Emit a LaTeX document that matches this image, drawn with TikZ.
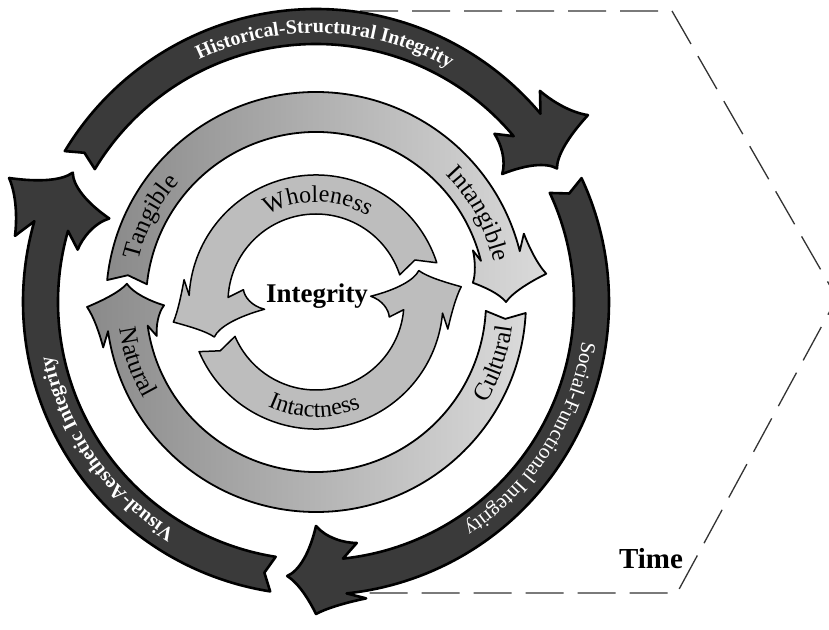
\documentclass[tikz,border=0pt]{standalone}
\usepackage{fontspec}
\setmainfont{Liberation Serif}
\usetikzlibrary{decorations.text}
\definecolor{ringdark}{HTML}{3A3A3A}
\definecolor{midL}{HTML}{8A8A8A}
\definecolor{midR}{HTML}{DADADA}
\definecolor{innerfill}{HTML}{BDBDBD}
\definecolor{dashgray}{HTML}{333333}
% #1 style, #2 r inner, #3 r outer, #4 tail angle, #5 neck angle, #6 tip angle,
% #7 barb reach outside, #8 barb reach inside, #9 notch apex angle
\newcommand\ringarrow[9]{%
  \pgfmathsetmacro\rI{#2}%
  \pgfmathsetmacro\rO{#3}%
  \pgfmathsetmacro\rM{(#2+#3)/2}%
  \pgfmathsetmacro\hW{(#3-#2)/2}%
  \pgfmathsetmacro\aT{#4}%
  \pgfmathsetmacro\aN{#5}%
  \pgfmathsetmacro\aP{#6}%
  \pgfmathsetmacro\dA{#6-#5}%
  \pgfmathsetmacro\eO{#7}%
  \pgfmathsetmacro\eI{#8}%
  \pgfmathsetmacro\aK{#9}%
  \path[#1] (\aT:\rO) arc[start angle=\aT,end angle=\aN,radius=\rO]
    -- ({\aN-0.3*\dA}:{\rO+0.4*\eO})
    .. controls ({\aN-0.05*\dA}:{\rO+0.45*\eO}) and ({\aN+0.3*\dA}:{\rO+0.65*\eO}) .. ({\aN+0.5*\dA}:{\rO+\eO})
    .. controls ({\aN+0.62*\dA}:{\rO+0.2*\eO}) and ({\aN+0.8*\dA}:{\rM+0.35*\hW}) .. (\aP:\rM)
    .. controls ({\aN+0.8*\dA}:{\rM-0.35*\hW}) and ({\aN+0.62*\dA}:{\rI-0.2*\eI}) .. ({\aN+0.5*\dA}:{\rI-\eI})
    .. controls ({\aN+0.3*\dA}:{\rI-0.65*\eI}) and ({\aN-0.05*\dA}:{\rI-0.45*\eI}) .. ({\aN-0.3*\dA}:{\rI-0.4*\eI})
    -- (\aN:\rI) arc[start angle=\aN,end angle=\aT,radius=\rI]
    -- (\aK:\rM) -- cycle;
}
\begin{document}
\begin{tikzpicture}[x=1pt,y=1pt,
  outerarrow/.style={fill=ringdark, draw=black, line width=2.6pt, line join=round},
  midarrow/.style={left color=midL, right color=midR, draw=black, line width=1.8pt, line join=round},
  innerarrow/.style={fill=innerfill, draw=black, line width=1.5pt, line join=round},
  timeline/.style={draw=dashgray, line width=1.3pt, dash pattern=on 38pt off 14pt, dash phase=48pt},
  bandtext/.style={decorate, decoration={text along path, text align=center, text={#1}}},
]
\clip (-316,-327) rectangle (513,302);
\fill[white] (-316,-327) rectangle (513,302);
% time frame
\draw[timeline] (40,291) -- (356,291) -- (521,4) -- (361,-291) -- (40,-291);
% outer ring
\ringarrow{outerarrow}{258}{293}{149}{40}{29}{37}{32}{147.2}
\ringarrow{outerarrow}{258}{293}{25}{-84}{-96}{19}{34}{23.2}
\ringarrow{outerarrow}{258}{293}{261}{164}{152}{38}{35}{259.2}
% middle ring
\ringarrow{midarrow}{170}{210}{174}{14}{0}{22}{12}{171.9}
\ringarrow{midarrow}{170}{210}{-3}{-172}{-185.5}{19}{18}{-5.1}
% inner ring
\ringarrow{innerarrow}{88}{127}{18}{177}{199}{17}{36}{23}
\ringarrow{innerarrow}{88}{127}{203}{355}{377}{19}{33}{207}
% outer texts
\path[bandtext={|\fontsize{20}{24}\selectfont\bfseries\color{white}|Historical-Structural Integrity}] (158:269) arc[start angle=158,end angle=18,radius=269];
\path[bandtext={|\fontsize{21}{24}\selectfont\color{white}|Social-Functional Integrity}] (27.5:269) arc[start angle=27.5,end angle=-92.5,radius=269];
\path[bandtext={|\fontsize{20}{24}\selectfont\bfseries\color{white}|Visual-Aesthetic Integrity}] (285:269) arc[start angle=285,end angle=145,radius=269];
% middle texts
\path[bandtext={|\fontsize{25}{28}\selectfont|Tangible}] (192.75:182) arc[start angle=192.75,end angle=112.75,radius=182];
\path[bandtext={|\fontsize{25}{28}\selectfont|Intangible}] (68.5:182) arc[start angle=68.5,end angle=-11.5,radius=182];
\path[bandtext={|\fontsize{25}{28}\selectfont|Natural}] (158.5:198) arc[start angle=158.5,end angle=238.5,radius=198];
\path[bandtext={|\fontsize{25}{28}\selectfont|Cultural}] (-59:198) arc[start angle=-59,end angle=21,radius=198];
% inner texts
\path[bandtext={|\fontsize{24}{28}\selectfont|Wholeness}] (150:100) arc[start angle=150,end angle=28,radius=100];
\path[bandtext={|\fontsize{24}{28}\selectfont|Intactness}] (209:115) arc[start angle=209,end angle=329,radius=115];
% labels
\node (integ) at (1,6) {\fontsize{27}{30}\selectfont\bfseries Integrity};
\node (time) at (335,-257) {\fontsize{29}{32}\selectfont\bfseries Time};
\end{tikzpicture}
\end{document}
